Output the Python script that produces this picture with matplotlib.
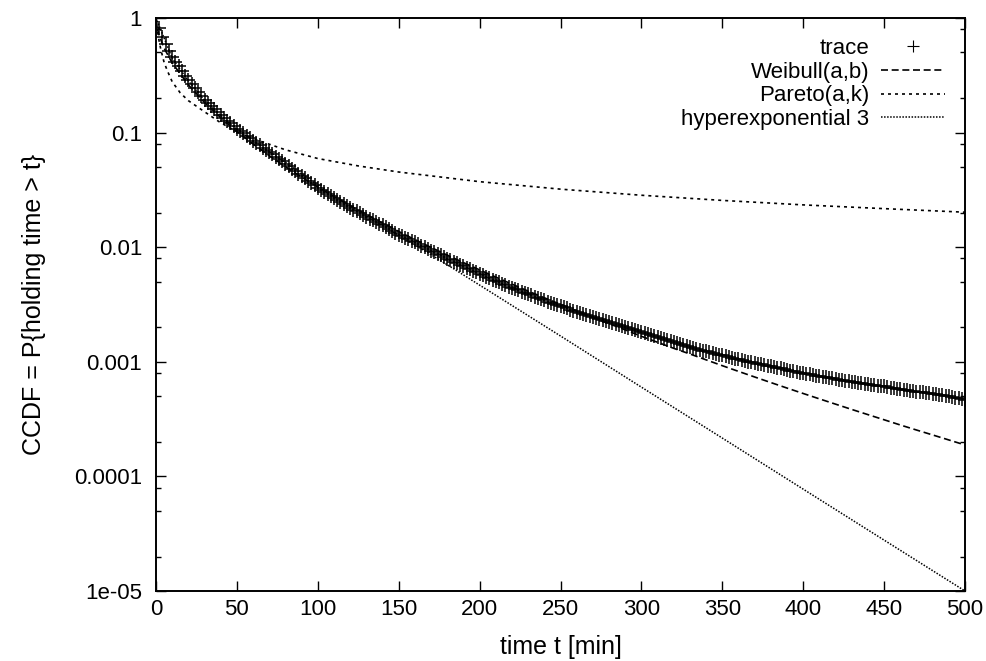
import numpy as np
import matplotlib
matplotlib.use("Agg")
import matplotlib.pyplot as plt
from matplotlib.ticker import FixedLocator, FixedFormatter, LogLocator, NullFormatter

# measured trace, one point every 2 minutes
trace_t = np.arange(0, 501, 2)
trace = [1.0,
    0.813, 0.684, 0.589, 0.513, 0.457,
    0.416, 0.378, 0.344, 0.313, 0.285,
    0.264, 0.244, 0.225, 0.208, 0.193,
    0.181, 0.170, 0.160, 0.150, 0.141,
    0.134, 0.127, 0.121, 0.114, 0.108,
    0.103, 0.0984, 0.0938, 0.0893, 0.0851,
    0.0813, 0.0776, 0.0741, 0.0708, 0.0676,
    0.0646, 0.0617, 0.0589, 0.0562, 0.0537,
    0.0511, 0.0485, 0.0461, 0.0439, 0.0417,
    0.0398, 0.0380, 0.0363, 0.0347, 0.0331,
    0.0318, 0.0305, 0.0292, 0.0281, 0.0269,
    0.0259, 0.0249, 0.0239, 0.0230, 0.0221,
    0.0213, 0.0206, 0.0198, 0.0191, 0.0184,
    0.0178, 0.0172, 0.0166, 0.0160, 0.0155,
    0.0149, 0.0144, 0.0139, 0.0134, 0.0129,
    0.0125, 0.0121, 0.0117, 0.0113, 0.0110,
    0.0106, 0.0103, 0.00995, 0.00964, 0.00933,
    0.00904, 0.00875, 0.00847, 0.00820, 0.00794,
    0.00771, 0.00748, 0.00726, 0.00705, 0.00684,
    0.00664, 0.00644, 0.00625, 0.00607, 0.00589,
    0.00571, 0.00555, 0.00538, 0.00522, 0.00507,
    0.00493, 0.00480, 0.00467, 0.00454, 0.00442,
    0.00431, 0.00420, 0.00409, 0.00399, 0.00389,
    0.00379, 0.00370, 0.00361, 0.00352, 0.00343,
    0.00335, 0.00327, 0.00320, 0.00313, 0.00305,
    0.00299, 0.00292, 0.00285, 0.00279, 0.00272,
    0.00267, 0.00261, 0.00256, 0.00251, 0.00245,
    0.00240, 0.00236, 0.00231, 0.00226, 0.00221,
    0.00217, 0.00212, 0.00208, 0.00204, 0.00200,
    0.00196, 0.00192, 0.00189, 0.00185, 0.00182,
    0.00178, 0.00175, 0.00171, 0.00167, 0.00164,
    0.00161, 0.00157, 0.00154, 0.00151, 0.00148,
    0.00145, 0.00143, 0.00140, 0.00137, 0.00135,
    0.00132, 0.00130, 0.00128, 0.00125, 0.00123,
    0.00121, 0.00119, 0.00117, 0.00115, 0.00114,
    0.00112, 0.00110, 0.00108, 0.00106, 0.00105,
    0.00103, 0.00102, 0.00100, 0.000991, 0.000977,
    0.000964, 0.000951, 0.000938, 0.000925, 0.000912,
    0.000899, 0.000887, 0.000875, 0.000863, 0.000851,
    0.000839, 0.000828, 0.000817, 0.000805, 0.000794,
    0.000785, 0.000776, 0.000767, 0.000759, 0.000750,
    0.000741, 0.000733, 0.000724, 0.000716, 0.000708,
    0.000700, 0.000692, 0.000684, 0.000676, 0.000668,
    0.000662, 0.000656, 0.000650, 0.000644, 0.000638,
    0.000632, 0.000626, 0.000621, 0.000615, 0.000610,
    0.000603, 0.000596, 0.000589, 0.000582, 0.000575,
    0.000570, 0.000565, 0.000560, 0.000555, 0.000550,
    0.000545, 0.000540, 0.000535, 0.000530, 0.000525,
    0.000520, 0.000515, 0.000511, 0.000506, 0.000501,
    0.000494, 0.000488, 0.000481, 0.000474, 0.000468]

weibull_t = [0, 1, 2, 5, 10, 20, 30, 40, 50, 60, 70, 80, 90, 100,
             110, 120, 130, 140, 150, 160, 170, 180, 190, 200,
             210, 220, 230, 240, 250, 260, 270, 280, 290, 300,
             310, 320, 330, 340, 350, 360, 370, 380, 390, 400,
             410, 420, 430, 440, 450, 460, 470, 480, 490, 500]
weibull = [1.0, 0.787, 0.70, 0.546, 0.406, 0.261, 0.183, 0.1348, 0.1024, 0.0796,
           0.0629, 0.0505, 0.0409, 0.0335, 0.02765, 0.0230, 0.01925, 0.01621,
           0.01372, 0.01165, 0.00995, 0.00853, 0.00734, 0.00634, 0.00548,
           0.00476, 0.00414, 0.00362, 0.00317, 0.00278, 0.00244, 0.00215,
           0.00190, 0.00167, 0.00148, 0.00131, 0.00117, 0.00104, 0.000925,
           0.000825, 0.000737, 0.000659, 0.000590, 0.000529, 0.000475,
           0.000427, 0.000384, 0.000346, 0.000312, 0.000281, 0.000254,
           0.000230, 0.000208, 0.000188]

pareto_t = [0, 1, 2, 3, 5, 7, 10, 15, 20, 30, 40, 50, 60, 80, 100, 125,
            150, 200, 250, 300, 350, 400, 450, 500]
pareto = [1.0, 0.76, 0.62, 0.53, 0.41, 0.347, 0.278, 0.222, 0.190, 0.152,
          0.1217, 0.102, 0.0885, 0.0708, 0.0594, 0.0512, 0.0453, 0.0373,
          0.0321, 0.0284, 0.0256, 0.0234, 0.0217, 0.0202]

hyper_t = [0, 10, 20, 30, 40, 50, 60, 70, 80, 90, 100, 110, 120, 130,
           140, 150, 160, 170, 180, 200, 250, 300, 350, 400, 450, 500]
hyper = [1.0, 0.447, 0.282, 0.191, 0.140, 0.107, 0.0851, 0.0684, 0.0550,
         0.0437, 0.0347, 0.0282, 0.0229, 0.0188, 0.0155, 0.0127, 0.0105,
         0.00861, 0.00703, 0.00467, 0.00168, 0.000601, 0.000216,
         7.74e-5, 2.78e-5, 1.0e-5]

yticks = [1e-5, 1e-4, 1e-3, 1e-2, 1e-1, 1]
ytick_labels = ["1e-05", "0.0001", "0.001", "0.01", "0.1", "1"]
xticks = [0, 50, 100, 150, 200, 250, 300, 350, 400, 450, 500]

plt.rcParams["font.family"] = ["Liberation Sans", "DejaVu Sans"]
plt.rcParams["font.size"] = 16

fig = plt.figure(figsize=(9.86, 6.61), dpi=100)
ax = fig.add_axes([156 / 986, 70 / 661, 809 / 986, 573 / 661])

ax.plot(trace_t, trace, ls="none", marker="+", ms=9.5, mew=1.1,
        color="black", label="trace")
ax.plot(weibull_t, weibull, color="black", lw=1.2, ls=(0, (4.2, 2.2)),
        label="Weibull(a,b)")
ax.plot(pareto_t, pareto, color="black", lw=1.2, ls=(0, (1.8, 2.4)),
        label="Pareto(a,k)")
ax.plot(hyper_t, hyper, color="black", lw=1.1, ls=(0, (1, 1)),
        label="hyperexponential 3")

ax.set_yscale("log")
ax.set_xlim(0, 500)
ax.set_ylim(1e-5, 1)
ax.xaxis.set_major_locator(FixedLocator(xticks))
ax.yaxis.set_major_locator(FixedLocator(yticks))
ax.yaxis.set_major_formatter(FixedFormatter(ytick_labels))
ax.yaxis.set_minor_locator(LogLocator(base=10, subs=(2, 5, 8)))
ax.yaxis.set_minor_formatter(NullFormatter())
ax.tick_params(which="both", direction="in", top=True, right=True, width=1.0)
ax.tick_params(which="major", length=7.2)
ax.tick_params(which="minor", length=3.6)
ax.tick_params(axis="y", pad=10)
ax.tick_params(axis="x", pad=6)
for s in ax.spines.values():
    s.set_linewidth(1.4)

ax.set_xlabel("time t [min]", fontsize=18)
ax.set_ylabel("CCDF = P{holding time > t}", fontsize=18)
ax.xaxis.set_label_coords(0.5, -0.076)
ax.yaxis.set_label_coords(-0.136, 0.5)

leg = ax.legend(loc="upper right", bbox_to_anchor=(945 / 986, 623 / 661),
                bbox_transform=fig.transFigure, frameon=False, markerfirst=False,
                borderpad=0, borderaxespad=0, handlelength=2.9,
                handletextpad=0.5, labelspacing=0.12, numpoints=1)
for h in leg.legend_handles[:1]:
    h.set_markeredgewidth(0.8)
    h.set_markersize(8)

fig.savefig("out.png", dpi=100)
